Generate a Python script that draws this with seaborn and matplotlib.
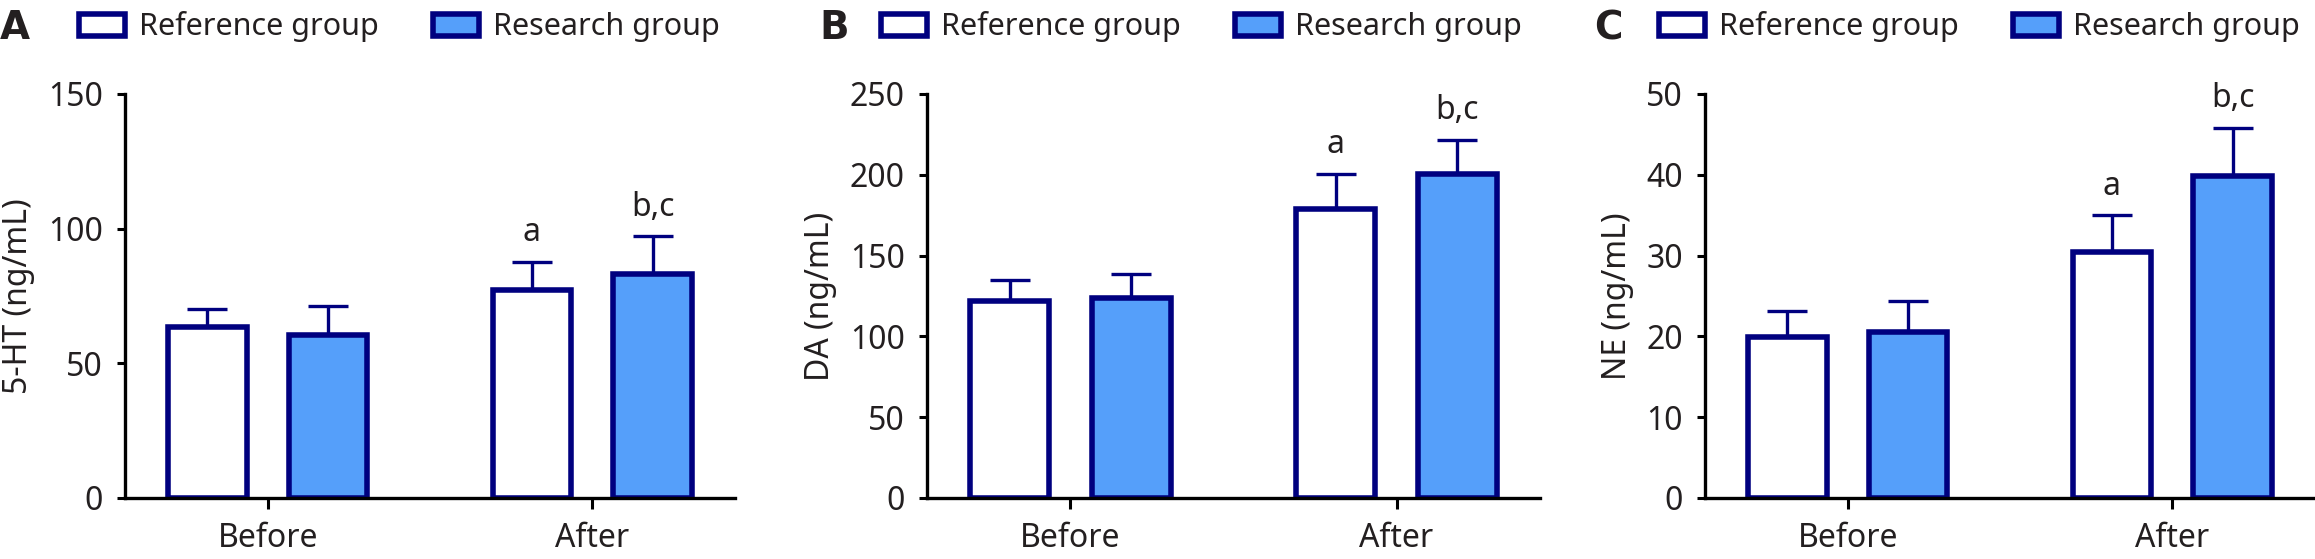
import pandas as pd
import matplotlib
matplotlib.use("Agg")
import matplotlib.pyplot as plt
from matplotlib.patches import Patch
from matplotlib.container import BarContainer
import seaborn as sns

# values
times = ["Before", "After"]
groups = ["Reference group", "Research group"]

ht_ref = [63.4, 77.1]
ht_res = [60.5, 83.2]
ht_ref_sd = [6.6, 10.6]
ht_res_sd = [10.9, 14.0]

da_ref = [122.2, 179.0]
da_res = [124.0, 200.5]
da_ref_sd = [12.9, 21.5]
da_res_sd = [14.4, 21.2]

ne_ref = [19.9, 30.4]
ne_res = [20.6, 39.9]
ne_ref_sd = [3.3, 4.6]
ne_res_sd = [3.8, 5.9]

marks = ["a", "b,c"]   # shown over the "After" bars

panels = [
    ("A", "5-HT (ng/mL)", ht_ref, ht_res, ht_ref_sd, ht_res_sd, [0, 50, 100, 150]),
    ("B", "DA (ng/mL)", da_ref, da_res, da_ref_sd, da_res_sd, [0, 50, 100, 150, 200, 250]),
    ("C", "NE (ng/mL)", ne_ref, ne_res, ne_ref_sd, ne_res_sd, [0, 10, 20, 30, 40, 50]),
]

navy = "#00007f"
blue = "#559ffa"
ink = "#231f20"

sns.set_style("ticks")
plt.rcParams["font.family"] = ["Noto Sans", "DejaVu Sans"]
plt.rcParams["text.color"] = ink
plt.rcParams["axes.labelcolor"] = ink
plt.rcParams["xtick.color"] = "black"
plt.rcParams["ytick.color"] = "black"
plt.rcParams["xtick.labelcolor"] = ink
plt.rcParams["ytick.labelcolor"] = ink

W, H = 2315, 559
fig = plt.figure(figsize=(W / 100, H / 100), dpi=100)

ax_left = [125, 927, 1705]
ax_width = [610, 613, 610]
letter_x = [0, 819, 1594]
top_px, bottom_px = 94, 498

for i, (letter, ylabel, ref, res, ref_sd, res_sd, yticks) in enumerate(panels):
    ax = fig.add_axes([ax_left[i] / W, (H - bottom_px) / H,
                       ax_width[i] / W, (bottom_px - top_px) / H])

    df = pd.DataFrame({
        "time": times * 2,
        "group": [groups[0]] * 2 + [groups[1]] * 2,
        "value": ref + res,
    })
    sns.barplot(data=df, x="time", y="value", hue="group", order=times,
                hue_order=groups, palette=["white", blue], saturation=1,
                edgecolor=navy, linewidth=4, width=0.744, gap=0.35,
                errorbar=None, legend=False, ax=ax, zorder=2)

    bars = [c for c in ax.containers if isinstance(c, BarContainer)]
    sds = [ref_sd, res_sd]
    for k, cont in enumerate(bars):
        xs = [b.get_x() + b.get_width() / 2 for b in cont]
        ys = [b.get_height() for b in cont]
        ax.errorbar(xs, ys, yerr=[[0] * len(ys), sds[k]], fmt="none",
                    ecolor=navy, elinewidth=2.4, capsize=14.5, capthick=2.4,
                    zorder=1)
        # significance letters over the "After" bar
        ax.annotate(marks[k], (xs[1], ys[1] + sds[k][1]),
                    xytext=(0, 9), textcoords="offset points",
                    ha="center", va="bottom", fontsize=23, color=ink)

    ax.set_xlim(-0.44, 1.44)
    ax.set_ylim(0, yticks[-1])
    ax.set_yticks(yticks)
    ax.set_xlabel("")
    ax.set_ylabel(ylabel, fontsize=23, labelpad=9)
    sns.despine(ax=ax)
    for side in ["left", "bottom"]:
        ax.spines[side].set_linewidth(2.4)
        ax.spines[side].set_color("black")
        ax.spines[side].set_zorder(3)
    ax.tick_params(axis="y", length=6, width=2.2, pad=10, labelsize=23)
    ax.tick_params(axis="x", length=8, width=2.2, pad=9, labelsize=23)

    handles = [Patch(facecolor="white", edgecolor=navy, linewidth=4),
               Patch(facecolor=blue, edgecolor=navy, linewidth=4)]
    ax.legend(handles, groups, loc="center left",
              bbox_to_anchor=((ax_left[i] - 46) / W, 1 - 27 / H),
              bbox_transform=fig.transFigure, ncol=2, frameon=False,
              fontsize=22, handlelength=1.5, handleheight=0.75,
              handletextpad=0.45, columnspacing=1.8, borderpad=0,
              borderaxespad=0)

    fig.text(letter_x[i] / W, 1 - 28 / H, letter, fontsize=28,
             fontweight="bold", family="DejaVu Sans", ha="left",
             va="center", color=ink)

fig.savefig("out.png", dpi=100)
